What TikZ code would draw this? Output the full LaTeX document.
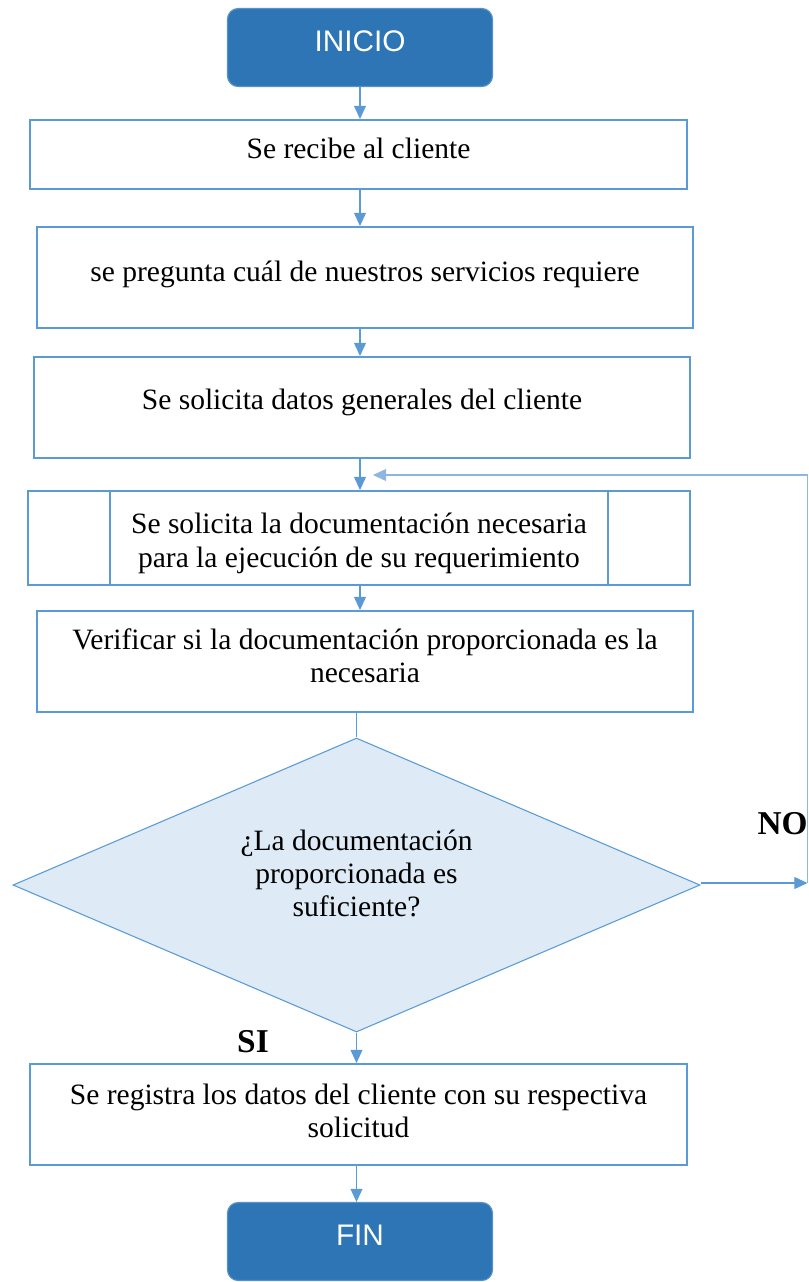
\documentclass[tikz,border=0pt]{standalone}
\usepackage{fontspec}
\setmainfont{Liberation Serif}
\newfontfamily\arialfont{Liberation Sans}
\usetikzlibrary{shapes.geometric,arrows.meta}
\definecolor{lineblue}{HTML}{5B9BD5}
\definecolor{darkblue}{HTML}{2E75B6}
\definecolor{paleblue}{HTML}{DEEBF7}
\definecolor{loopblue}{HTML}{8DB6E2}
\newcommand{\pxu}{0.42pt}

\begin{document}
\begin{tikzpicture}[x=\pxu, y=-\pxu,
	font=\fontsize{12.4pt}{13.7pt}\selectfont,
	terminal/.style={shape=rectangle, rounded corners=4.5pt, fill=darkblue, draw=darkblue!80!white, line width=0.5pt, text=white, font=\arialfont\fontsize{12.5pt}{14pt}\selectfont, text height=9pt, text depth=5.8pt, minimum width=265*\pxu, minimum height=78*\pxu},
	proceso/.style={shape=rectangle, draw=lineblue, line width=0.85pt, minimum width=656*\pxu, minimum height=101*\pxu, align=center},
	linea/.style={text height=9pt, text depth=6pt},
	subir/.style={text height=#1, text depth=3pt},
	decision/.style={shape=diamond, shape aspect=2.3, draw=lineblue, fill=paleblue, line width=0.45pt, minimum width=687*\pxu, minimum height=294*\pxu, align=center, inner sep=0pt},
	flecha/.style={draw=lineblue, line width=0.45pt, -{Triangle[length=5.5pt,width=5pt]}},
	rama/.style={font=\bfseries\fontsize{14pt}{16pt}\selectfont, inner sep=0pt}
]
	\useasboundingbox (0, 0) rectangle (809, 1282);

	\node[terminal] (inicio) at (360, 47.5)     {INICIO};
	\node[proceso, linea, minimum width=657*\pxu, minimum height=69*\pxu] (recibe) at (358.5, 154.5) {Se recibe al cliente};
	\node[proceso, linea] (pregunta) at (365, 277.5)   {se pregunta cuál de nuestros servicios requiere};
	\node[proceso, linea, text depth=7.5pt] (datos) at (362, 407.5) {Se solicita datos generales del cliente};
	\node[proceso, subir=27.7pt, minimum width=662*\pxu, minimum height=94*\pxu] (docu) at (359, 538) {Se solicita la documentación necesaria\\[0.6pt]para la ejecución de su requerimiento};
	\node[proceso, subir=20.5pt] (verificar) at (365, 661.5)  {Verificar si la documentación proporcionada es la\\necesaria};
	\node[decision, subir=29.2pt] (pregunta2) at (356.5, 885) {¿La documentación\\proporcionada es\\suficiente?};
	\node[proceso, subir=22.1pt, minimum width=657*\pxu] (registra) at (358.5, 1114.5) {Se registra los datos del cliente con su respectiva\\solicitud};
	\node[terminal] (fin) at (360, 1241.5)      {FIN};

	% lados del subproceso
	\draw[lineblue, line width=0.85pt] ([xshift=83*\pxu]docu.north west) -- ([xshift=83*\pxu]docu.south west);
	\draw[lineblue, line width=0.85pt] ([xshift=-83*\pxu]docu.north east) -- ([xshift=-83*\pxu]docu.south east);

	\node[rama, anchor=east] (no) at (808, 824) {NO};
	\node[rama] (si) at (253, 1042) {SI};

	\coordinate (salida) at (807.5, 883);
	\coordinate (giro) at (807.5, 475);
	\coordinate (retorno) at (373, 475);

	\draw[flecha] (inicio.south) -- (inicio.south |- recibe.north);
	\draw[flecha] (inicio.south |- recibe.south) -- (inicio.south |- pregunta.north);
	\draw[flecha] (inicio.south |- pregunta.south) -- (inicio.south |- datos.north);
	\draw[flecha] (inicio.south |- datos.south) -- (inicio.south |- docu.north);
	\draw[flecha] (inicio.south |- docu.south) -- (inicio.south |- verificar.north);
	\draw[flecha, -] (pregunta2.north |- verificar.south) -- (pregunta2.north);
	\draw[flecha] (pregunta2.east |- salida) -- (salida);
	\draw[flecha, draw=loopblue] (salida) -- (giro) -- (retorno);
	\draw[flecha] (pregunta2.south) -- (pregunta2.south |- registra.north);
	\draw[flecha] (pregunta2.south |- registra.south) -- (pregunta2.south |- fin.north);

\end{tikzpicture}
\end{document}
